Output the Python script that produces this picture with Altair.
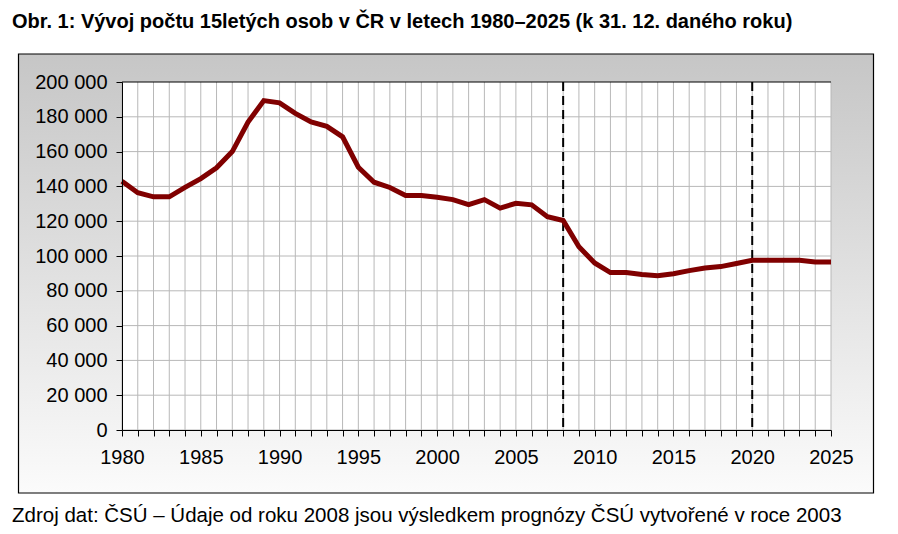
import altair as alt
import pandas as pd

# ---- data ----
years = list(range(1980, 2026))
counts = [143000, 136400, 134000, 134000, 139400, 144500, 150700, 160000, 177000, 189300,
          188000, 182000, 177000, 174500, 168500, 151000, 142400, 139400, 134800, 134800,
          133800, 132400, 129500, 132400, 127500, 130300, 129400, 122600, 120400, 105300,
          96000, 90500, 90500, 89400, 88700, 89800, 91600, 93100, 93900, 95700,
          97500, 97500, 97500, 97500, 96600, 96600]
marker_years = [2008, 2020]
y_ticks = list(range(0, 200001, 20000))

title_text = "Obr. 1: Vývoj počtu 15letých osob v ČR v letech 1980–2025 (k 31. 12. daného roku)"
source_text = "Zdroj dat: ČSÚ – Údaje od roku 2008 jsou výsledkem prognózy ČSÚ vytvořené v roce 2003"

W, H = 709, 348
FONT = "Liberation Sans"

df = pd.DataFrame({"year": years, "count": counts})
one = pd.DataFrame({"k": [0]})

xscale = alt.Scale(domain=[1980, 2025], nice=False, zero=False)
yscale = alt.Scale(domain=[0, 200000], nice=False)

xaxis = alt.Axis(values=years, labelExpr="datum.value % 5 == 0 ? '' + datum.value : ''",
                 grid=False, domainColor="black", tickColor="black", tickSize=6,
                 labelFontSize=20, labelFont=FONT, labelColor="black", labelPadding=11,
                 labelOverlap=False, labelFlush=False, title=None, zindex=1)
yaxis = alt.Axis(values=y_ticks, labelExpr="replace(format(datum.value, ','), ',', ' ')",
                 grid=False, domainColor="black", tickColor="black", tickSize=6,
                 labelFontSize=20, labelFont=FONT, labelColor="black", labelPadding=9,
                 title=None, zindex=1)

bg = alt.Chart(one).mark_rect(
    fill=alt.Gradient(gradient="linear",
                      stops=[alt.GradientStop(color="#c6c6c6", offset=0),
                             alt.GradientStop(color="#fbfbfb", offset=1)],
                      x1=0, x2=0, y1=0, y2=1),
    stroke="black", strokeWidth=1.2
).encode(x=alt.value(-103.5), x2=alt.value(W + 42.5), y=alt.value(-28), y2=alt.value(H + 63))

plotbg = alt.Chart(one).mark_rect(fill="white").encode(
    x=alt.value(0), x2=alt.value(W), y=alt.value(0), y2=alt.value(H))

vgrid = alt.Chart(pd.DataFrame({"year": years})).mark_rule(color="#b8b8b8", strokeWidth=1).encode(
    x=alt.X("year:Q", scale=xscale, axis=xaxis))

hgrid = alt.Chart(pd.DataFrame({"count": y_ticks})).mark_rule(strokeWidth=1).encode(
    y=alt.Y("count:Q", scale=yscale, axis=yaxis),
    color=alt.condition("datum.count == 200000", alt.value("black"), alt.value("#b8b8b8")))

dashed = alt.Chart(pd.DataFrame({"year": marker_years})).mark_rule(
    color="black", strokeWidth=2, strokeDash=[9, 5]).encode(
    x=alt.X("year:Q", scale=xscale, axis=xaxis))

line = alt.Chart(df).mark_line(color="#800000", strokeWidth=5).encode(
    x=alt.X("year:Q", scale=xscale, axis=xaxis),
    y=alt.Y("count:Q", scale=yscale, axis=yaxis))

title = alt.Chart(one).mark_text(text=title_text, align="left", baseline="alphabetic",
                                 font=FONT, fontSize=20, fontWeight="bold", color="black").encode(
    x=alt.value(-110), y=alt.value(-54))

source = alt.Chart(one).mark_text(text=source_text, align="left", baseline="alphabetic",
                                  font=FONT, fontSize=20.5, color="black").encode(
    x=alt.value(-110), y=alt.value(H + 92))

chart = alt.layer(bg, plotbg, vgrid, hgrid, dashed, line, title, source).properties(
    width=W, height=H,
    autosize=alt.AutoSizeParams(type="none"),
    padding={"left": 114, "top": 74, "right": 55, "bottom": 96},
    background="white",
).configure_view(stroke=None)

chart.save("out.html", embed_options={"renderer": "svg", "actions": False})
